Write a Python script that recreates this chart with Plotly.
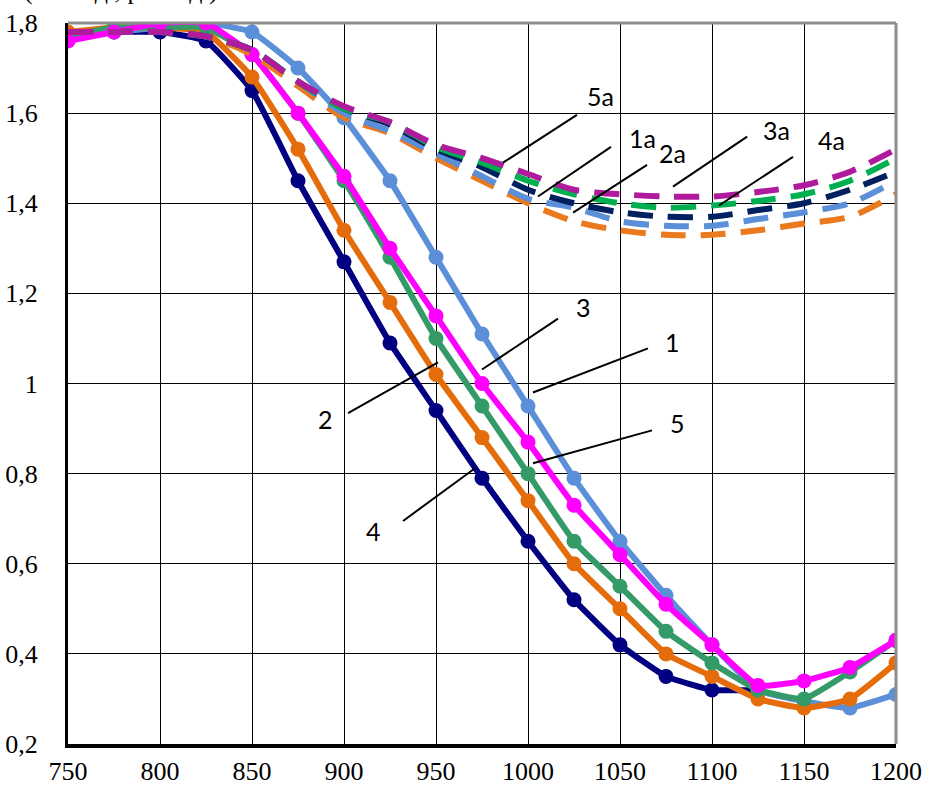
import plotly.graph_objects as go

# ---------------- data ----------------
wavelength = [750, 775, 800, 825, 850, 875, 900, 925, 950, 975, 1000,
              1025, 1050, 1075, 1100, 1125, 1150, 1175, 1200]

# solid curves (with markers)
s1 = [1.77, 1.78, 1.79, 1.80, 1.78, 1.70, 1.59, 1.45, 1.28, 1.11, 0.95,
      0.79, 0.65, 0.53, 0.42, 0.32, 0.295, 0.28, 0.31]          # light blue
s2 = [1.78, 1.79, 1.79, 1.78, 1.68, 1.52, 1.34, 1.18, 1.02, 0.88, 0.74,
      0.60, 0.50, 0.40, 0.35, 0.30, 0.28, 0.30, 0.38]           # orange
s3 = [1.76, 1.78, 1.80, 1.80, 1.73, 1.60, 1.46, 1.30, 1.15, 1.00, 0.87,
      0.73, 0.62, 0.51, 0.42, 0.33, 0.34, 0.37, 0.43]           # magenta
s4 = [1.77, 1.78, 1.78, 1.76, 1.65, 1.45, 1.27, 1.09, 0.94, 0.79, 0.65,
      0.52, 0.42, 0.35, 0.32, 0.32]                             # navy
s5 = [1.77, 1.79, 1.79, 1.79, 1.73, 1.60, 1.45, 1.28, 1.10, 0.95, 0.80,
      0.65, 0.55, 0.45, 0.38, 0.32, 0.30, 0.36, 0.43]           # green

# dashed curves
d_orange = [1.78, 1.78, 1.78, 1.77, 1.73, 1.66, 1.59, 1.555, 1.50, 1.45, 1.40,
            1.36, 1.34, 1.33, 1.33, 1.34, 1.355, 1.37, 1.42]
d_blue = [1.78, 1.78, 1.78, 1.77, 1.74, 1.67, 1.60, 1.56, 1.51, 1.46, 1.41,
          1.39, 1.36, 1.35, 1.35, 1.365, 1.38, 1.40, 1.45]
d_navy = [1.78, 1.78, 1.78, 1.77, 1.74, 1.67, 1.61, 1.575, 1.52, 1.48, 1.43,
          1.40, 1.38, 1.37, 1.37, 1.385, 1.40, 1.43, 1.47]
d_green = [1.78, 1.78, 1.78, 1.77, 1.74, 1.67, 1.61, 1.58, 1.525, 1.49, 1.45,
           1.42, 1.40, 1.39, 1.395, 1.405, 1.42, 1.45, 1.50]
d_purple = [1.78, 1.78, 1.78, 1.77, 1.74, 1.67, 1.615, 1.58, 1.53, 1.50, 1.465,
            1.43, 1.42, 1.415, 1.415, 1.425, 1.44, 1.47, 1.52]

x_ticks = [750, 800, 850, 900, 950, 1000, 1050, 1100, 1150, 1200]
y_ticks = [0.2, 0.4, 0.6, 0.8, 1.0, 1.2, 1.4, 1.6, 1.8]
y_ticktext = ["0,2", "0,4", "0,6", "0,8", "1", "1,2", "1,4", "1,6", "1,8"]

# curve labels: (text, text x, text y, leader x0, y0, x1, y1)
curve_labels = [
    ("3", 1029.9, 1.169, 1016.3, 1.144, 975.0, 1.031),
    ("1", 1078.8, 1.093, 1065.2, 1.078, 1002.7, 0.980),
    ("2", 889.7, 0.921, 902.2, 0.934, 951.1, 1.047),
    ("5", 1081.5, 0.912, 1067.4, 0.896, 1002.7, 0.823),
    ("4", 915.8, 0.673, 932.1, 0.695, 971.2, 0.812),
    ("5a", 1039.6, 1.639, 1026.6, 1.596, 986.4, 1.490),
    ("1a", 1062.3, 1.545, 1045.1, 1.525, 1005.4, 1.415),
    ("2a", 1078.6, 1.511, 1064.7, 1.485, 1024.5, 1.379),
    ("3a", 1135.2, 1.563, 1119.1, 1.548, 1078.8, 1.437),
    ("4a", 1165.1, 1.541, 1144.0, 1.503, 1103.8, 1.395),
]

SERIF = "Liberation Serif, Times New Roman, DejaVu Serif, serif"
SANS = "Lato, Open Sans, sans-serif"

# ---------------- figure ----------------
fig = go.Figure()

solid = [
    (s4, "#000080", "4"),
    (s1, "#5B8FD8", "1"),
    (s2, "#E46C0A", "2"),
    (s5, "#349A68", "5"),
    (s3, "#FF00FF", "3"),
]
for ys, col, name in solid:
    fig.add_trace(go.Scatter(
        x=wavelength[:len(ys)], y=ys, mode="lines+markers", name=name,
        line=dict(color=col, width=6, shape="spline", smoothing=0.4),
        marker=dict(color=col, size=15),
    ))

dashed = [
    (d_orange, "#EB7A1E", "2a"),
    (d_blue, "#5B8FD8", "1a"),
    (d_navy, "#002060", "4a"),
    (d_green, "#00B050", "3a"),
    (d_purple, "#B01A9C", "5a"),
]
for ys, col, name in dashed:
    fig.add_trace(go.Scatter(
        x=wavelength, y=ys, mode="lines", name=name,
        line=dict(color=col, width=6, dash="25px,15px", shape="spline", smoothing=0.8),
    ))

annotations = []
shapes = []
for txt, tx, ty, x0, y0, x1, y1 in curve_labels:
    annotations.append(dict(x=tx, y=ty, xref="x", yref="y", text=txt, showarrow=False,
                            font=dict(family=SANS, size=25, color="black")))
    shapes.append(dict(type="line", xref="x", yref="y", x0=x0, y0=y0, x1=x1, y1=y1,
                       line=dict(color="black", width=2)))

# top and right gray frame
shapes.append(dict(type="line", xref="paper", yref="paper", x0=0, x1=1, y0=1, y1=1,
                   line=dict(color="#8C8C8C", width=3), layer="above"))
shapes.append(dict(type="line", xref="paper", yref="paper", x0=1, x1=1, y0=0, y1=1,
                   line=dict(color="#8C8C8C", width=3), layer="above"))

# partially cut-off axis caption at the very top (as in the reference)
annotations.append(dict(x=-0.055, y=1, xref="paper", yref="paper", xanchor="left", yanchor="bottom",
                        yshift=16, text="(отн. ед., рел. ед.)", showarrow=False,
                        font=dict(family=SERIF, size=26, color="black")))

fig.update_layout(
    width=925, height=787,
    margin=dict(l=68, r=29, t=23, b=43),
    paper_bgcolor="white", plot_bgcolor="white",
    showlegend=False,
    annotations=annotations, shapes=shapes,
    font=dict(family=SERIF, color="black"),
)
fig.update_xaxes(
    range=[750, 1200], tickvals=x_ticks, ticktext=[str(v) for v in x_ticks],
    showgrid=True, gridcolor="black", gridwidth=1, automargin=False,
    showline=True, linecolor="black", linewidth=4, zeroline=False,
    ticks="", ticklabelstandoff=1,
    tickfont=dict(family=SERIF, size=26, color="black"),
)
fig.update_yaxes(
    range=[0.2, 1.8], tickvals=y_ticks, ticktext=y_ticktext,
    showgrid=True, gridcolor="black", gridwidth=1, automargin=False,
    showline=True, linecolor="black", linewidth=3, zeroline=False,
    ticks="", ticklabelstandoff=22,
    tickfont=dict(family=SERIF, size=26, color="black"),
)

fig.write_html("out.html")
